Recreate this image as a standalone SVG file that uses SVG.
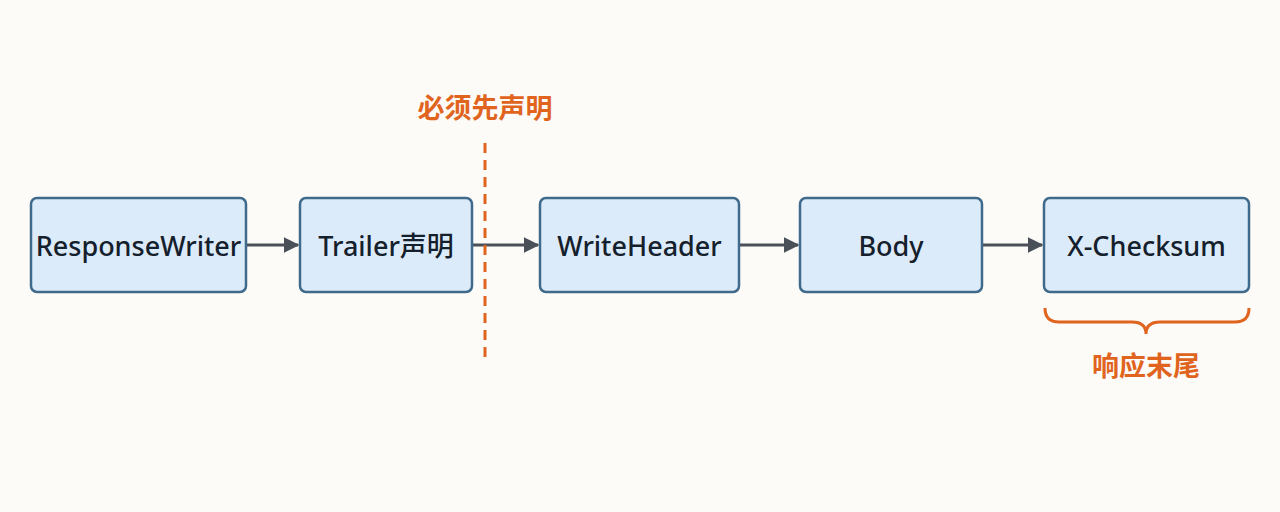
<svg xmlns="http://www.w3.org/2000/svg" width="1280" height="512" viewBox="0 0 1280 512">
<style>
.box{fill:#dcebf9;stroke:#3f6a8c;stroke-width:2.5}
.t{font-family:"Noto Sans","Noto Sans CJK SC",sans-serif;font-size:27px;font-weight:500;fill:#14202c;text-anchor:middle;dominant-baseline:central}
.o{font-family:"Noto Sans CJK SC",sans-serif;font-size:27px;font-weight:bold;fill:#e0641e;text-anchor:middle;dominant-baseline:central}
</style>
<defs>
<marker id="b" viewBox="0 0 10 10" refX="9" refY="5" markerWidth="16" markerHeight="16" markerUnits="userSpaceOnUse" orient="auto"><path d="M0,0 L10,5 L0,10 z" fill="#4a5058"/></marker></defs>
<rect width="1280" height="512" fill="#fcfbf8"/>
<g id="connectors">
<path d="M247 245 H298" stroke="#4a5058" stroke-width="3" marker-end="url(#b)"/>
<path d="M473 245 H538" stroke="#4a5058" stroke-width="3" marker-end="url(#b)"/>
<path d="M740 245 H798" stroke="#4a5058" stroke-width="3" marker-end="url(#b)"/>
<path d="M983 245 H1042" stroke="#4a5058" stroke-width="3" marker-end="url(#b)"/>
</g>
<g id="n1"><rect class="box" x="31" y="198" width="215" height="94" rx="6"/><text class="t" x="138.5" y="245">ResponseWriter</text></g>
<g id="n2"><rect class="box" x="300" y="198" width="172" height="94" rx="6"/><text class="t" x="386" y="245">Trailer声明</text></g>
<g id="n3"><rect class="box" x="540" y="198" width="199" height="94" rx="6"/><text class="t" x="639.5" y="245">WriteHeader</text></g>
<g id="n4"><rect class="box" x="800" y="198" width="182" height="94" rx="6"/><text class="t" x="891" y="245">Body</text></g>
<g id="n5"><rect class="box" x="1044" y="198" width="205" height="94" rx="6"/><text class="t" x="1146.5" y="245">X-Checksum</text></g>
<g id="divider"><path d="M485 143 V358" stroke="#e0641e" stroke-width="3" stroke-dasharray="10 7"/><text class="o" x="485" y="106">必须先声明</text></g>
<g id="brace"><path d="M1045 308 Q1045 322 1059 322 H1132 Q1146 322 1146 334 Q1146 322 1160 322 H1235 Q1249 322 1249 308" stroke="#e0641e" stroke-width="3" fill="none"/><text class="o" x="1146" y="364">响应末尾</text></g>
</svg>
